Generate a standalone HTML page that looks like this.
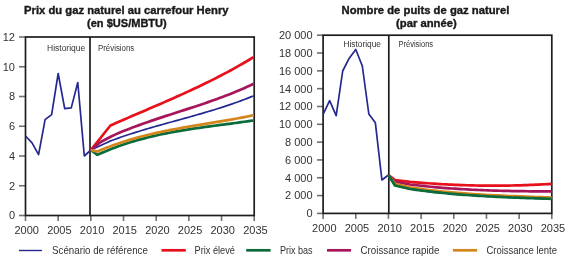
<!DOCTYPE html>
<html><head><meta charset="utf-8"><style>
html,body{margin:0;padding:0;background:#fff;}
body{width:580px;height:263px;overflow:hidden;}
svg{display:block;}
text{font-family:"Liberation Sans",sans-serif;fill:#333;}
svg{will-change:transform;}
.tk{font-size:11px;}
.hp{font-size:8.5px;}
.ti{font-size:10.2px;font-weight:bold;fill:#1a1a1a;stroke:#1a1a1a;stroke-width:0.35px;}
.lg{font-size:10.3px;}
</style></head><body>
<svg width="580" height="263" viewBox="0 0 580 263">
<line x1="19" y1="215.50" x2="25.5" y2="215.50" stroke="#707070" stroke-width="1.6"/>
<text x="15.0" y="219.40" text-anchor="end" class="tk">0</text>
<line x1="19" y1="185.75" x2="25.5" y2="185.75" stroke="#707070" stroke-width="1.6"/>
<text x="15.0" y="189.65" text-anchor="end" class="tk">2</text>
<line x1="19" y1="156.00" x2="25.5" y2="156.00" stroke="#707070" stroke-width="1.6"/>
<text x="15.0" y="159.90" text-anchor="end" class="tk">4</text>
<line x1="19" y1="126.25" x2="25.5" y2="126.25" stroke="#707070" stroke-width="1.6"/>
<text x="15.0" y="130.15" text-anchor="end" class="tk">6</text>
<line x1="19" y1="96.50" x2="25.5" y2="96.50" stroke="#707070" stroke-width="1.6"/>
<text x="15.0" y="100.40" text-anchor="end" class="tk">8</text>
<line x1="19" y1="66.75" x2="25.5" y2="66.75" stroke="#707070" stroke-width="1.6"/>
<text x="15.0" y="70.65" text-anchor="end" class="tk">10</text>
<line x1="19" y1="37.00" x2="25.5" y2="37.00" stroke="#707070" stroke-width="1.6"/>
<text x="15.0" y="40.90" text-anchor="end" class="tk">12</text>
<line x1="25.50" y1="215.5" x2="25.50" y2="221.00" stroke="#707070" stroke-width="1.6"/>
<text x="26.70" y="233.6" text-anchor="middle" class="tk">2000</text>
<line x1="58.17" y1="215.5" x2="58.17" y2="221.00" stroke="#707070" stroke-width="1.6"/>
<text x="59.37" y="233.6" text-anchor="middle" class="tk">2005</text>
<line x1="90.84" y1="215.5" x2="90.84" y2="221.00" stroke="#707070" stroke-width="1.6"/>
<text x="92.04" y="233.6" text-anchor="middle" class="tk">2010</text>
<line x1="123.51" y1="215.5" x2="123.51" y2="221.00" stroke="#707070" stroke-width="1.6"/>
<text x="124.71" y="233.6" text-anchor="middle" class="tk">2015</text>
<line x1="156.19" y1="215.5" x2="156.19" y2="221.00" stroke="#707070" stroke-width="1.6"/>
<text x="157.39" y="233.6" text-anchor="middle" class="tk">2020</text>
<line x1="188.86" y1="215.5" x2="188.86" y2="221.00" stroke="#707070" stroke-width="1.6"/>
<text x="190.06" y="233.6" text-anchor="middle" class="tk">2025</text>
<line x1="221.53" y1="215.5" x2="221.53" y2="221.00" stroke="#707070" stroke-width="1.6"/>
<text x="222.73" y="233.6" text-anchor="middle" class="tk">2030</text>
<line x1="254.20" y1="215.5" x2="254.20" y2="221.00" stroke="#707070" stroke-width="1.6"/>
<text x="255.40" y="233.6" text-anchor="middle" class="tk">2035</text>
<rect x="25.5" y="37.0" width="228.70" height="178.50" fill="none" stroke="#1e1e1e" stroke-width="1.7"/>
<line x1="90.0" y1="37.0" x2="90.0" y2="215.5" stroke="#1e1e1e" stroke-width="1.7"/>
<line x1="317" y1="213.40" x2="323.1" y2="213.40" stroke="#707070" stroke-width="1.6"/>
<text x="312.6" y="217.30" text-anchor="end" class="tk">0</text>
<line x1="317" y1="195.58" x2="323.1" y2="195.58" stroke="#707070" stroke-width="1.6"/>
<text x="312.6" y="199.48" text-anchor="end" class="tk">2 000</text>
<line x1="317" y1="177.76" x2="323.1" y2="177.76" stroke="#707070" stroke-width="1.6"/>
<text x="312.6" y="181.66" text-anchor="end" class="tk">4 000</text>
<line x1="317" y1="159.94" x2="323.1" y2="159.94" stroke="#707070" stroke-width="1.6"/>
<text x="312.6" y="163.84" text-anchor="end" class="tk">6 000</text>
<line x1="317" y1="142.12" x2="323.1" y2="142.12" stroke="#707070" stroke-width="1.6"/>
<text x="312.6" y="146.02" text-anchor="end" class="tk">8 000</text>
<line x1="317" y1="124.30" x2="323.1" y2="124.30" stroke="#707070" stroke-width="1.6"/>
<text x="312.6" y="128.20" text-anchor="end" class="tk">10 000</text>
<line x1="317" y1="106.48" x2="323.1" y2="106.48" stroke="#707070" stroke-width="1.6"/>
<text x="312.6" y="110.38" text-anchor="end" class="tk">12 000</text>
<line x1="317" y1="88.66" x2="323.1" y2="88.66" stroke="#707070" stroke-width="1.6"/>
<text x="312.6" y="92.56" text-anchor="end" class="tk">14 000</text>
<line x1="317" y1="70.84" x2="323.1" y2="70.84" stroke="#707070" stroke-width="1.6"/>
<text x="312.6" y="74.74" text-anchor="end" class="tk">16 000</text>
<line x1="317" y1="53.02" x2="323.1" y2="53.02" stroke="#707070" stroke-width="1.6"/>
<text x="312.6" y="56.92" text-anchor="end" class="tk">18 000</text>
<line x1="317" y1="35.20" x2="323.1" y2="35.20" stroke="#707070" stroke-width="1.6"/>
<text x="312.6" y="39.10" text-anchor="end" class="tk">20 000</text>
<line x1="323.10" y1="213.4" x2="323.10" y2="218.90" stroke="#707070" stroke-width="1.6"/>
<text x="324.30" y="231.7" text-anchor="middle" class="tk">2000</text>
<line x1="355.77" y1="213.4" x2="355.77" y2="218.90" stroke="#707070" stroke-width="1.6"/>
<text x="356.97" y="231.7" text-anchor="middle" class="tk">2005</text>
<line x1="388.44" y1="213.4" x2="388.44" y2="218.90" stroke="#707070" stroke-width="1.6"/>
<text x="389.64" y="231.7" text-anchor="middle" class="tk">2010</text>
<line x1="421.11" y1="213.4" x2="421.11" y2="218.90" stroke="#707070" stroke-width="1.6"/>
<text x="422.31" y="231.7" text-anchor="middle" class="tk">2015</text>
<line x1="453.79" y1="213.4" x2="453.79" y2="218.90" stroke="#707070" stroke-width="1.6"/>
<text x="454.99" y="231.7" text-anchor="middle" class="tk">2020</text>
<line x1="486.46" y1="213.4" x2="486.46" y2="218.90" stroke="#707070" stroke-width="1.6"/>
<text x="487.66" y="231.7" text-anchor="middle" class="tk">2025</text>
<line x1="519.13" y1="213.4" x2="519.13" y2="218.90" stroke="#707070" stroke-width="1.6"/>
<text x="520.33" y="231.7" text-anchor="middle" class="tk">2030</text>
<line x1="551.80" y1="213.4" x2="551.80" y2="218.90" stroke="#707070" stroke-width="1.6"/>
<text x="553.00" y="231.7" text-anchor="middle" class="tk">2035</text>
<rect x="323.1" y="35.2" width="228.70" height="178.20" fill="none" stroke="#1e1e1e" stroke-width="1.7"/>
<line x1="388.8" y1="35.2" x2="388.8" y2="213.4" stroke="#1e1e1e" stroke-width="1.7"/>
<polyline points="25.50,136.00 32.03,142.80 38.57,154.70 45.10,119.70 51.64,114.60 58.17,73.50 64.70,108.70 71.24,107.90 77.77,82.50 84.31,156.00 90.84,150.00" fill="none" stroke="#25288f" stroke-width="1.7" stroke-linejoin="round" stroke-linecap="butt"/>
<polyline points="90.84,150.00 109.30,141.40 112.30,140.28 115.30,139.18 118.30,138.11 121.30,137.06 124.30,136.04 127.30,135.04 130.30,134.05 133.30,133.09 136.30,132.14 139.30,131.21 142.30,130.30 145.30,129.40 148.30,128.51 151.30,127.63 154.30,126.77 157.30,125.91 160.30,125.06 163.30,124.22 166.30,123.38 169.30,122.55 172.30,121.72 175.30,120.89 178.30,120.06 181.30,119.24 184.30,118.41 187.30,117.57 190.30,116.73 193.30,115.89 196.30,115.04 199.30,114.18 202.30,113.31 205.30,112.43 208.30,111.54 211.30,110.64 214.30,109.72 217.30,108.79 220.30,107.84 223.30,106.87 226.30,105.89 229.30,104.88 232.30,103.85 235.30,102.80 238.30,101.72 241.30,100.62 244.30,99.49 247.30,98.34 250.30,97.15 253.30,95.94 253.60,95.82" fill="none" stroke="#25288f" stroke-width="1.7" stroke-linejoin="round" stroke-linecap="butt"/>
<polyline points="90.84,150.00 110.44,125.47 113.44,124.15 116.44,122.83 119.44,121.52 122.44,120.22 125.44,118.92 128.44,117.62 131.44,116.33 134.44,115.04 137.44,113.76 140.44,112.47 143.44,111.18 146.44,109.90 149.44,108.61 152.44,107.32 155.44,106.02 158.44,104.73 161.44,103.43 164.44,102.12 167.44,100.81 170.44,99.49 173.44,98.16 176.44,96.82 179.44,95.48 182.44,94.12 185.44,92.76 188.44,91.38 191.44,89.99 194.44,88.59 197.44,87.17 200.44,85.74 203.44,84.29 206.44,82.83 209.44,81.35 212.44,79.85 215.44,78.34 218.44,76.80 221.44,75.25 224.44,73.67 227.44,72.08 230.44,70.46 233.44,68.81 236.44,67.15 239.44,65.45 242.44,63.74 245.44,61.99 248.44,60.22 251.44,58.42 253.60,57.11" fill="none" stroke="#e8111b" stroke-width="2.7" stroke-linejoin="round" stroke-linecap="butt"/>
<polyline points="90.84,150.00 100.70,142.00 112.10,135.94 115.10,134.63 118.10,133.34 121.10,132.09 124.10,130.87 127.10,129.67 130.10,128.50 133.10,127.35 136.10,126.23 139.10,125.13 142.10,124.04 145.10,122.98 148.10,121.93 151.10,120.89 154.10,119.87 157.10,118.87 160.10,117.87 163.10,116.88 166.10,115.90 169.10,114.93 172.10,113.96 175.10,112.99 178.10,112.03 181.10,111.06 184.10,110.10 187.10,109.13 190.10,108.15 193.10,107.17 196.10,106.19 199.10,105.19 202.10,104.19 205.10,103.17 208.10,102.14 211.10,101.09 214.10,100.03 217.10,98.95 220.10,97.85 223.10,96.73 226.10,95.59 229.10,94.42 232.10,93.23 235.10,92.01 238.10,90.76 241.10,89.48 244.10,88.17 247.10,86.83 250.10,85.46 253.10,84.04 253.60,83.81" fill="none" stroke="#a7165b" stroke-width="2.7" stroke-linejoin="round" stroke-linecap="butt"/>
<polyline points="90.84,150.00 97.37,154.87 100.37,153.51 103.37,152.21 106.37,150.95 109.37,149.73 112.37,148.55 115.37,147.41 118.37,146.32 121.37,145.26 124.37,144.24 127.37,143.26 130.37,142.31 133.37,141.40 136.37,140.52 139.37,139.67 142.37,138.86 145.37,138.07 148.37,137.31 151.37,136.58 154.37,135.88 157.37,135.20 160.37,134.55 163.37,133.92 166.37,133.32 169.37,132.73 172.37,132.16 175.37,131.62 178.37,131.09 181.37,130.58 184.37,130.08 187.37,129.60 190.37,129.13 193.37,128.68 196.37,128.24 199.37,127.80 202.37,127.38 205.37,126.96 208.37,126.55 211.37,126.15 214.37,125.75 217.37,125.36 220.37,124.96 223.37,124.57 226.37,124.18 229.37,123.79 232.37,123.40 235.37,123.00 238.37,122.60 241.37,122.19 244.37,121.78 247.37,121.36 250.37,120.94 253.37,120.50 253.60,120.47" fill="none" stroke="#0b6b3b" stroke-width="2.7" stroke-linejoin="round" stroke-linecap="butt"/>
<polyline points="90.84,150.00 97.37,151.59 100.37,150.30 103.37,149.05 106.37,147.84 109.37,146.68 112.37,145.56 115.37,144.47 118.37,143.43 121.37,142.41 124.37,141.44 127.37,140.50 130.37,139.59 133.37,138.71 136.37,137.86 139.37,137.04 142.37,136.25 145.37,135.49 148.37,134.75 151.37,134.03 154.37,133.34 157.37,132.67 160.37,132.02 163.37,131.39 166.37,130.77 169.37,130.18 172.37,129.60 175.37,129.03 178.37,128.48 181.37,127.93 184.37,127.40 187.37,126.88 190.37,126.36 193.37,125.86 196.37,125.35 199.37,124.86 202.37,124.36 205.37,123.87 208.37,123.38 211.37,122.89 214.37,122.39 217.37,121.89 220.37,121.39 223.37,120.89 226.37,120.37 229.37,119.85 232.37,119.32 235.37,118.78 238.37,118.23 241.37,117.66 244.37,117.08 247.37,116.49 250.37,115.88 253.37,115.25 253.60,115.20" fill="none" stroke="#d4861b" stroke-width="2.7" stroke-linejoin="round" stroke-linecap="butt"/>
<polyline points="323.10,114.30 329.63,100.60 336.17,115.60 342.70,71.00 349.24,58.20 355.77,49.50 362.30,66.00 368.84,114.00 375.37,122.80 381.91,180.00 388.44,175.00" fill="none" stroke="#25288f" stroke-width="1.7" stroke-linejoin="round" stroke-linecap="butt"/>
<polyline points="388.44,175.00 394.97,185.50 410.00,189.01 413.00,189.43 416.00,189.85 419.00,190.24 422.00,190.63 425.00,191.00 428.00,191.36 431.00,191.71 434.00,192.04 437.00,192.37 440.00,192.68 443.00,192.98 446.00,193.27 449.00,193.55 452.00,193.82 455.00,194.08 458.00,194.32 461.00,194.56 464.00,194.80 467.00,195.02 470.00,195.23 473.00,195.44 476.00,195.63 479.00,195.82 482.00,196.01 485.00,196.18 488.00,196.35 491.00,196.51 494.00,196.67 497.00,196.82 500.00,196.96 503.00,197.10 506.00,197.23 509.00,197.36 512.00,197.49 515.00,197.61 518.00,197.72 521.00,197.84 524.00,197.95 527.00,198.05 530.00,198.16 533.00,198.26 536.00,198.36 539.00,198.46 542.00,198.55 545.00,198.65 548.00,198.74 551.00,198.84 551.80,198.86" fill="none" stroke="#25288f" stroke-width="1.7" stroke-linejoin="round" stroke-linecap="butt"/>
<polyline points="388.44,175.00 394.97,180.00 410.00,181.81 413.00,182.08 416.00,182.34 419.00,182.59 422.00,182.82 425.00,183.05 428.00,183.27 431.00,183.48 434.00,183.68 437.00,183.88 440.00,184.06 443.00,184.23 446.00,184.39 449.00,184.55 452.00,184.69 455.00,184.82 458.00,184.95 461.00,185.06 464.00,185.17 467.00,185.26 470.00,185.35 473.00,185.42 476.00,185.49 479.00,185.54 482.00,185.59 485.00,185.63 488.00,185.65 491.00,185.67 494.00,185.67 497.00,185.67 500.00,185.66 503.00,185.63 506.00,185.60 509.00,185.55 512.00,185.50 515.00,185.44 518.00,185.36 521.00,185.28 524.00,185.18 527.00,185.08 530.00,184.96 533.00,184.84 536.00,184.70 539.00,184.55 542.00,184.40 545.00,184.23 548.00,184.05 551.00,183.86 551.80,183.81" fill="none" stroke="#e8111b" stroke-width="2.7" stroke-linejoin="round" stroke-linecap="butt"/>
<polyline points="388.44,175.00 394.97,181.70 410.00,184.47 413.00,184.84 416.00,185.19 419.00,185.53 422.00,185.86 425.00,186.18 428.00,186.48 431.00,186.77 434.00,187.05 437.00,187.32 440.00,187.58 443.00,187.83 446.00,188.06 449.00,188.29 452.00,188.50 455.00,188.71 458.00,188.91 461.00,189.09 464.00,189.27 467.00,189.44 470.00,189.60 473.00,189.75 476.00,189.89 479.00,190.02 482.00,190.15 485.00,190.27 488.00,190.38 491.00,190.48 494.00,190.58 497.00,190.67 500.00,190.75 503.00,190.83 506.00,190.90 509.00,190.97 512.00,191.03 515.00,191.09 518.00,191.14 521.00,191.18 524.00,191.22 527.00,191.26 530.00,191.29 533.00,191.32 536.00,191.35 539.00,191.37 542.00,191.39 545.00,191.41 548.00,191.42 551.00,191.43 551.80,191.43" fill="none" stroke="#a7165b" stroke-width="2.7" stroke-linejoin="round" stroke-linecap="butt"/>
<polyline points="388.44,175.00 394.97,183.90 410.00,187.39 413.00,187.85 416.00,188.29 419.00,188.71 422.00,189.12 425.00,189.52 428.00,189.89 431.00,190.26 434.00,190.61 437.00,190.95 440.00,191.27 443.00,191.58 446.00,191.88 449.00,192.17 452.00,192.44 455.00,192.71 458.00,192.96 461.00,193.20 464.00,193.44 467.00,193.66 470.00,193.87 473.00,194.08 476.00,194.27 479.00,194.46 482.00,194.64 485.00,194.81 488.00,194.98 491.00,195.14 494.00,195.29 497.00,195.44 500.00,195.58 503.00,195.72 506.00,195.85 509.00,195.98 512.00,196.10 515.00,196.22 518.00,196.34 521.00,196.46 524.00,196.57 527.00,196.68 530.00,196.79 533.00,196.90 536.00,197.01 539.00,197.11 542.00,197.22 545.00,197.33 548.00,197.44 551.00,197.55 551.80,197.58" fill="none" stroke="#d4861b" stroke-width="2.7" stroke-linejoin="round" stroke-linecap="butt"/>
<polyline points="388.44,175.00 394.97,185.50 410.00,189.01 413.00,189.43 416.00,189.85 419.00,190.24 422.00,190.63 425.00,191.00 428.00,191.36 431.00,191.71 434.00,192.04 437.00,192.37 440.00,192.68 443.00,192.98 446.00,193.27 449.00,193.55 452.00,193.82 455.00,194.08 458.00,194.32 461.00,194.56 464.00,194.80 467.00,195.02 470.00,195.23 473.00,195.44 476.00,195.63 479.00,195.82 482.00,196.01 485.00,196.18 488.00,196.35 491.00,196.51 494.00,196.67 497.00,196.82 500.00,196.96 503.00,197.10 506.00,197.23 509.00,197.36 512.00,197.49 515.00,197.61 518.00,197.72 521.00,197.84 524.00,197.95 527.00,198.05 530.00,198.16 533.00,198.26 536.00,198.36 539.00,198.46 542.00,198.55 545.00,198.65 548.00,198.74 551.00,198.84 551.80,198.86" fill="none" stroke="#0b6b3b" stroke-width="2.7" stroke-linejoin="round" stroke-linecap="butt"/>
<text x="47.0" y="50.9" class="hp" textLength="38.28" lengthAdjust="spacingAndGlyphs">Historique</text>
<text x="98.0" y="50.9" class="hp" textLength="36.22" lengthAdjust="spacingAndGlyphs">Prévisions</text>
<text x="343.5" y="46.7" class="hp" textLength="37.48" lengthAdjust="spacingAndGlyphs">Historique</text>
<text x="398.5" y="46.7" class="hp" textLength="34.62" lengthAdjust="spacingAndGlyphs">Prévisions</text>
<text x="24.0" y="13.9" class="ti" textLength="204.54" lengthAdjust="spacingAndGlyphs">Prix du gaz naturel au carrefour Henry</text>
<text x="87.0" y="27.1" class="ti" textLength="79.78" lengthAdjust="spacingAndGlyphs">(en $US/MBTU)</text>
<text x="341.5" y="13.6" class="ti" textLength="167.92" lengthAdjust="spacingAndGlyphs">Nombre de puits de gaz naturel</text>
<text x="396.0" y="26.7" class="ti" textLength="60.72" lengthAdjust="spacingAndGlyphs">(par année)</text>
<line x1="19" y1="250.5" x2="41.9" y2="250.5" stroke="#25288f" stroke-width="1.4"/>
<text x="52.0" y="253.6" class="lg" textLength="95.93" lengthAdjust="spacingAndGlyphs">Scénario de référence</text>
<line x1="161.5" y1="250.3" x2="185.8" y2="250.3" stroke="#e8111b" stroke-width="2.7"/>
<text x="194.5" y="253.6" class="lg" textLength="40.42" lengthAdjust="spacingAndGlyphs">Prix élevé</text>
<line x1="246.2" y1="250.3" x2="270.6" y2="250.3" stroke="#0b6b3b" stroke-width="2.7"/>
<text x="280.0" y="253.6" class="lg" textLength="32.6" lengthAdjust="spacingAndGlyphs">Prix bas</text>
<line x1="327" y1="250.3" x2="351" y2="250.3" stroke="#a7165b" stroke-width="2.7"/>
<text x="360.5" y="253.6" class="lg" textLength="79.0" lengthAdjust="spacingAndGlyphs">Croissance rapide</text>
<line x1="452.9" y1="250.3" x2="477.1" y2="250.3" stroke="#d4861b" stroke-width="2.7"/>
<text x="486.5" y="253.6" class="lg" textLength="70.5" lengthAdjust="spacingAndGlyphs">Croissance lente</text>
</svg>
</body></html>
